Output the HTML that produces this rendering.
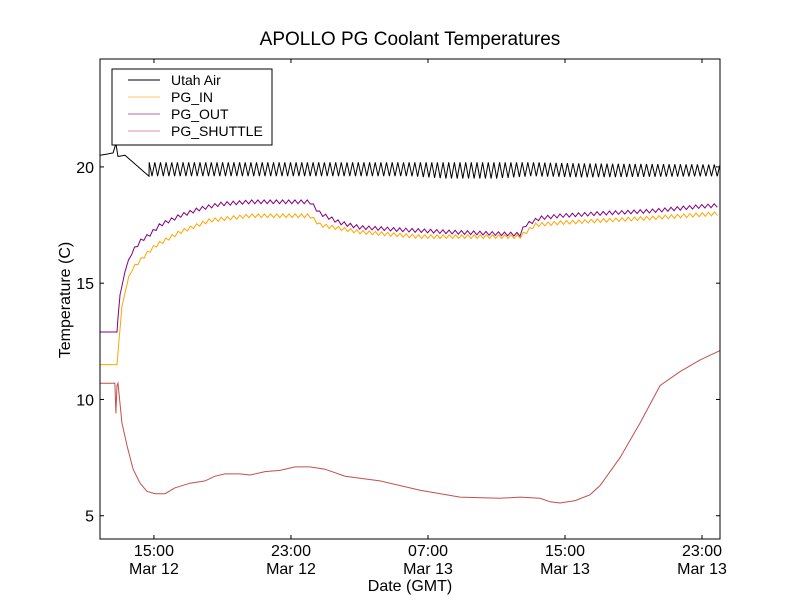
<!DOCTYPE html>
<html><head><meta charset="utf-8"><style>
body{margin:0;background:#fff;}
svg{display:block;font-family:"Liberation Sans","DejaVu Sans",sans-serif;}
</style></head><body>
<svg id="c" width="800" height="600">
<rect x="0" y="0" width="800" height="600" fill="#fff"/>
<text x="410" y="45" font-size="19" text-anchor="middle">APOLLO PG Coolant Temperatures</text>
<g id="plot"></g>
<g id="axes"></g>
<g id="legend"></g>
</svg>
<script>
// hours since Mar 12 00:00 GMT
const xMin = 11.85, xMax = 48.05, yMin = 4.0, yMax = 24.64;
const xTicks = [15, 23, 31, 39, 47];
const xTickLabels = [["15:00","Mar 12"],["23:00","Mar 12"],["07:00","Mar 13"],["15:00","Mar 13"],["23:00","Mar 13"]];
const yTicks = [5, 10, 15, 20];

const airT   = [11.85,12.61,12.78,12.90,13.31,14.71,14.72,20,30,32,35,37,40,48.05];
const airMid = [20.5, 20.6, 21.0, 20.45,20.5, 19.6, 19.9, 19.9,19.9,19.85,19.85,19.9,19.85,19.85];
const airAmp = [0,    0,    0,    0,    0,    0,   0.3, 0.3,0.3,0.35,0.35,0.3,0.3,0.25];

const outT = [11.85,12.84,12.90,13.02,13.31,13.60,14.19,14.77,15.35,16.52,17.69,18.86,20.61,24.11,24.70,25.87,27.03,29.37,32.29,36.38,36.67,37.54,38.71,41.05,43.97,46.89,48.05];
const outV = [12.9, 12.9, 13.5, 14.5, 15.5, 16.2, 16.8, 17.1, 17.5, 17.9, 18.2, 18.4, 18.5, 18.5, 18.0, 17.6, 17.4, 17.3, 17.2, 17.1, 17.5, 17.8, 17.9, 18.0, 18.1, 18.3, 18.35];

const inT = [11.85,12.84,12.90,13.13,13.60,14.48,15.06,16.52,18.27,20.61,24.11,24.70,27.03,30.54,36.38,37.25,38.71,43.97,48.05];
const inV = [11.5, 11.5, 12.0, 14.0, 15.5, 16.2, 16.6, 17.2, 17.7, 17.9, 17.9, 17.5, 17.2, 17.0, 17.0, 17.5, 17.6, 17.8, 18.0];

const shT = [11.85,12.72,12.78,12.84,12.90,13.13,13.43,13.78,14.19,14.59,15.06,15.65,16.23,17.11,17.98,18.57,19.15,20.03,20.61,21.49,22.36,23.24,24.11,24.99,26.16,28.20,30.54,32.87,35.21,36.38,37.54,38.13,38.71,39.59,40.46,41.05,42.22,43.39,44.55,45.72,46.89,48.05];
const shV = [10.7, 10.7, 9.4,  10.6, 10.7, 9.0,  8.0,  7.0,  6.4,  6.05, 5.95, 5.95, 6.2,  6.4,  6.5,  6.7,  6.8,  6.8,  6.75, 6.9,  6.95, 7.1,  7.1,  7.0,  6.7,  6.5,  6.1,  5.8,  5.75, 5.8,  5.75, 5.6,  5.55, 5.65, 5.9,  6.3,  7.5,  9.0,  10.6, 11.2, 11.7, 12.1];

const PL=100, PR=720, PT=59, PB=539;
const sx = t => PL + (t - xMin) / (xMax - xMin) * (PR - PL);
const sy = v => PB - (v - yMin) / (yMax - yMin) * (PB - PT);
const NS = "http://www.w3.org/2000/svg";
function interp(T, V, t){
  if (t <= T[0]) return V[0];
  for (let i=1;i<T.length;i++){ if (t<=T[i]) { const f=(t-T[i-1])/(T[i]-T[i-1]); return V[i-1]+f*(V[i]-V[i-1]); } }
  return V[V.length-1];
}
function pathFrom(T, V, ampT, ampV, period){
  const pts=[];
  if (!ampV){ for(let i=0;i<T.length;i++) pts.push([sx(T[i]),sy(V[i])]); }
  else {
    let t=T[0], k=0;
    const step = period/2;
    const end=T[T.length-1];
    while (t <= end+1e-9){
      const a = interp(ampT, ampV, t), m = interp(T, V, t);
      pts.push([sx(t), sy(m + (k%2===0 ? a : -a))]);
      if (a>0){ t += step; k++; }
      else {
        // advance to next knot or small step, keeping sharp knots
        let nt = t+0.05;
        for (let i=0;i<T.length;i++){ if (T[i]>t+1e-9 && T[i]<nt){ nt=T[i]; break; } }
        t = nt;
      }
    }
  }
  return "M"+pts.map(p=>p[0].toFixed(1)+","+p[1].toFixed(1)).join("L");
}
const plot = document.getElementById("plot");
function addLine(d, color, name, w){
  const p = document.createElementNS(NS,"path");
  p.setAttribute("d", d); p.setAttribute("fill","none"); p.setAttribute("stroke", color);
  p.setAttribute("stroke-width", w||1);
  
  
  plot.appendChild(p);
}
const rippleT = [11.85, 13.5, 13.6, 48.05];
const rippleOut = [0, 0, 0.08, 0.08];
const rippleIn = [0, 0, 0.08, 0.08];
addLine(pathFrom(shT, shV), "#c0504d", "series-pg-shuttle");
addLine(pathFrom(inT, inV, rippleT, rippleIn, 0.36), "#ffa500", "series-pg-in");
addLine(pathFrom(outT, outV, rippleT, rippleOut, 0.36), "#800080", "series-pg-out");
addLine(pathFrom(airT, airMid, airT, airAmp, 0.33), "#000", "series-utah-air");

const axes = document.getElementById("axes");
function el(tag, attrs, text){
  const e=document.createElementNS(NS,tag);
  for (const k in attrs) e.setAttribute(k, attrs[k]);
  if (text!==undefined) e.textContent=text;
  axes.appendChild(e); return e;
}
const frame = el("rect",{x:PL,y:PT,width:PR-PL,height:PB-PT,fill:"none",stroke:"#000","stroke-width":1});


xTicks.forEach((t,i)=>{
  const x=sx(t);
  el("line",{x1:x,x2:x,y1:PB,y2:PB-4,stroke:"#000"});
  el("line",{x1:x,x2:x,y1:PT,y2:PT+4,stroke:"#000"});
  const a=el("text",{x:x,y:PB+17,"font-size":"16","text-anchor":"middle"},xTickLabels[i][0]);
  
  
  const b=el("text",{x:x,y:PB+35,"font-size":"16","text-anchor":"middle"},xTickLabels[i][1]);
  
  
});
yTicks.forEach(v=>{
  const y=sy(v);
  el("line",{x1:PL,x2:PL+4,y1:y,y2:y,stroke:"#000"});
  el("line",{x1:PR,x2:PR-4,y1:y,y2:y,stroke:"#000"});
  const t=el("text",{x:PL-6,y:y+6,"font-size":"16","text-anchor":"end"},String(v));
  
  
});
const xt=el("text",{x:410,y:591,"font-size":"16","text-anchor":"middle"},"Date (GMT)");


const yt=el("text",{x:70,y:300,"font-size":"16","text-anchor":"middle",transform:"rotate(-90 70 300)"},"Temperature (C)");



const lg=document.getElementById("legend");
const lgItems=[["Utah Air","#000"],["PG_IN","#ffa500"],["PG_OUT","#800080"],["PG_SHUTTLE","#c0504d"]];
const box=document.createElementNS(NS,"rect");
box.setAttribute("x",112);box.setAttribute("y",69);box.setAttribute("width",160);box.setAttribute("height",76);
box.setAttribute("fill","#fff");box.setAttribute("stroke","#000");


lg.appendChild(box);
lgItems.forEach((it,i)=>{
  const y=80+i*17;
  const g=document.createElementNS(NS,"g");
  
  
  const l=document.createElementNS(NS,"line");
  l.setAttribute("x1",128);l.setAttribute("x2",160);l.setAttribute("y1",y);l.setAttribute("y2",y);
  l.setAttribute("stroke",it[1]);l.setAttribute("stroke-opacity",i===0?1:0.6);
  g.appendChild(l);
  const t=document.createElementNS(NS,"text");
  t.setAttribute("x",171);t.setAttribute("y",y+5);t.setAttribute("font-size","14");
  t.textContent=it[0];
  g.appendChild(t);
  lg.appendChild(g);
});
</script>
</body></html>
